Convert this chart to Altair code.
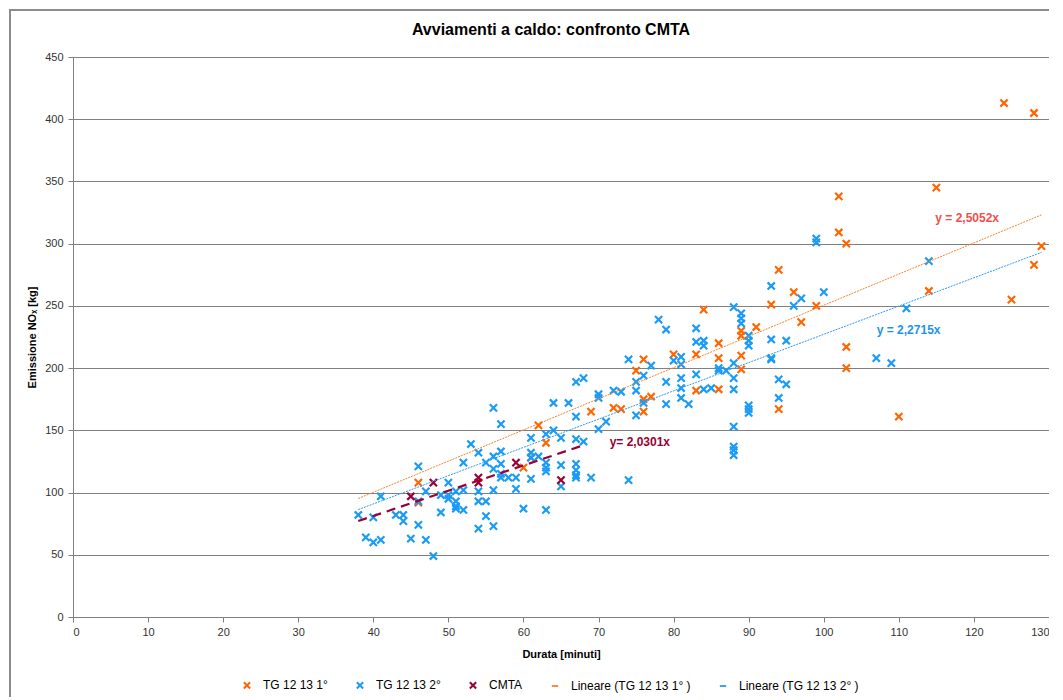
import altair as alt
import pandas as pd

# ---------------- data ----------------
TITLE = "Avviamenti a caldo: confronto CMTA"
S1 = "TG 12 13 1°"
S2 = "TG 12 13 2°"
S3 = "CMTA"
L1 = "Lineare (TG 12 13 1° )"
L2 = "Lineare (TG 12 13 2° )"

tg1_x = [46, 46, 60, 61, 62, 63, 69, 72, 73, 75, 76, 76, 77, 76, 80, 83, 83, 84, 86, 86,
         86, 89, 89, 89, 89, 91, 93, 94, 94, 96, 97, 99, 102, 102, 103, 103, 103, 110, 114,
         115, 124, 125, 128, 128, 129]
tg1_y = [108, 92, 120, 128, 154, 140, 165, 168, 167, 198, 207, 175, 177, 165, 211, 211, 182,
         247, 220, 208, 183, 230, 226, 210, 199, 233, 251, 279, 167, 261, 237, 250, 338, 309,
         300, 217, 200, 161, 262, 345, 413, 255, 405, 283, 298]

tg2_x = [57, 56, 53, 54, 52, 55, 56, 46, 50, 47, 46, 49, 50, 50, 51, 52, 51, 51, 51, 52,
         54, 56, 54, 55, 55, 54, 56, 49, 46, 45, 47, 48, 39, 40, 41, 38, 40, 41, 43, 44,
         44, 57, 56, 57, 57, 57, 58, 59, 59, 60, 63, 61, 64, 63, 65, 67, 68, 61, 61, 62,
         63, 63, 63, 65, 67, 67, 67, 67, 69, 61, 65, 74, 68, 67, 70, 70, 72, 73, 66, 64,
         67, 71, 70, 74, 76, 75, 75, 76, 75, 88, 89, 89, 89, 78, 79, 83, 83, 84, 84, 90,
         90, 90, 80, 81, 81, 88, 93, 93, 77, 86, 86, 87, 79, 81, 81, 83, 88, 88, 79, 81,
         82, 84, 85, 90, 90, 90, 88, 88, 88, 88, 94, 94, 93, 96, 97, 100, 99, 99, 93, 95,
         95, 111, 107, 109, 114]
tg2_y = [155, 168, 139, 132, 124, 124, 129, 121, 108, 101, 93, 98, 98, 95, 101, 102, 93, 89,
         87, 86, 101, 102, 93, 93, 81, 71, 73, 84, 74, 63, 62, 49, 64, 60, 62, 82, 80, 97,
         82, 82, 77, 133, 119, 123, 115, 112, 112, 112, 103, 87, 86, 144, 150, 147, 144, 143,
         141, 132, 128, 129, 124, 120, 117, 122, 123, 118, 114, 112, 112, 111, 105, 110, 192,
         189, 179, 176, 182, 181, 172, 172, 161, 157, 151, 207, 194, 189, 182, 172, 162, 249,
         244, 240, 236, 239, 231, 232, 221, 222, 218, 226, 222, 218, 206, 209, 203, 204, 223,
         207, 202, 200, 198, 198, 189, 192, 184, 195, 192, 183, 171, 176, 171, 183, 184, 170,
         167, 164, 153, 137, 134, 130, 191, 176, 266, 250, 256, 261, 304, 301, 208, 222, 187,
         248, 208, 204, 286]

cmta_x = [45, 48, 54, 54, 59, 65]
cmta_y = [97, 108, 112, 108, 124, 110]

# trend lines: slopes printed on the chart, x range of each fit
trend_names = [L1, L2, "CMTA fit"]
trend_slopes = [2.5052, 2.2715, 2.0301]
trend_x0 = [38, 38, 38]
trend_x1 = [129, 129, 68]
trend_labels = ["y = 2,5052x", "y = 2,2715x", "y= 2,0301x"]
label_x = [119.1, 111.3, 75.5]
label_y = [321, 231, 141]

legend_names = [S1, S2, S3, L1, L2]
legend_colors = ["#FF6600", "#1A9BF5", "#990033", "#FF8A3D", "#3AA3F5"]
X_PATH = "M-1,-1L1,1M-1,1L1,-1"
legend_shapes = [X_PATH, X_PATH, X_PATH, "stroke", "stroke"]

# ---------------- tables ----------------
pts = pd.concat([
    pd.DataFrame({"durata": tg1_x, "emissione": tg1_y, "serie": S1}),
    pd.DataFrame({"durata": tg2_x, "emissione": tg2_y, "serie": S2}),
    pd.DataFrame({"durata": cmta_x, "emissione": cmta_y, "serie": S3}),
], ignore_index=True)
pts["ordine"] = range(len(pts))

rows = []
for n, s, a, b in zip(trend_names, trend_slopes, trend_x0, trend_x1):
    rows.append({"linea": n, "durata": a, "emissione": s * a})
    rows.append({"linea": n, "durata": b, "emissione": s * b})
lines = pd.DataFrame(rows)

labels = pd.DataFrame({"durata": label_x, "emissione": label_y, "testo": trend_labels,
                       "colore": ["#F24E4E", "#1E93F0", "#990033"]})

FONT = "Liberation Sans"
GRID = "#808080"

xs = alt.Scale(domain=[0, 130], nice=False)
ys = alt.Scale(domain=[0, 450], nice=False)

x_axis = alt.Axis(values=list(range(0, 131, 10)), title="Durata [minuti]", grid=False,
                  domainColor=GRID, tickColor=GRID, tickSize=5, labelFontSize=11,
                  labelColor="#333333", labelFont=FONT, titleFont=FONT, titleFontSize=11,
                  titleFontWeight="bold", titlePadding=11, labelPadding=4)
y_axis = alt.Axis(values=list(range(0, 451, 50)), title="Emissione NOₓ [kg]", grid=True,
                  gridColor=GRID, gridWidth=1.2, domainColor=GRID, tickColor=GRID,
                  tickSize=5, labelFontSize=11, labelColor="#333333", labelFont=FONT,
                  titleFont=FONT, titleFontSize=11, titleFontWeight="bold",
                  titlePadding=7, labelPadding=5)

frame = alt.Chart(pd.DataFrame({"k": [0]})).mark_rect(
    fill=None, stroke="#8C8C8C", strokeWidth=2
).encode(x=alt.value(-63), x2=alt.value(1000), y=alt.value(-47), y2=alt.value(700))

title = alt.Chart(pd.DataFrame({"t": [TITLE]})).mark_text(
    font=FONT, fontSize=16, fontWeight="bold", color="#000000", align="center",
    baseline="middle"
).encode(text="t:N", x=alt.value(478), y=alt.value(-27))

points = alt.Chart(pts).mark_point(filled=False, size=52, strokeWidth=2.2, opacity=1).encode(
    x=alt.X("durata:Q", scale=xs, axis=x_axis),
    y=alt.Y("emissione:Q", scale=ys, axis=y_axis),
    color=alt.Color("serie:N", scale=alt.Scale(domain=legend_names, range=legend_colors),
                    legend=alt.Legend(orient="none", legendX=168, legendY=622,
                                      direction="horizontal", title=None, labelFont=FONT,
                                      labelFontSize=12, labelColor="#000000",
                                      symbolSize=40, symbolStrokeWidth=2,
                                      columnPadding=24, labelOffset=10)),
    shape=alt.Shape("serie:N", scale=alt.Scale(domain=legend_names, range=legend_shapes),
                    legend=alt.Legend(orient="none", legendX=168, legendY=622,
                                      direction="horizontal", title=None)),
    order=alt.Order("ordine:Q"),
)

def trend(name, color, dash, width):
    return alt.Chart(lines).transform_filter(alt.datum.linea == name).mark_line(
        color=color, strokeDash=dash, strokeWidth=width
    ).encode(x=alt.X("durata:Q", scale=xs), y=alt.Y("emissione:Q", scale=ys))

t1 = trend(L1, "#FF7F2A", [2, 1], 1)
t2 = trend(L2, "#2E9BF5", [2, 1], 1)
t3 = trend("CMTA fit", "#990033", [9, 6], 2.2)

texts = alt.Chart(labels).mark_text(font=FONT, fontSize=12, fontWeight="bold").encode(
    x=alt.X("durata:Q", scale=xs), y=alt.Y("emissione:Q", scale=ys),
    text="testo:N", color=alt.Color("colore:N", scale=None),
)

chart = alt.layer(frame, title, points, t1, t2, t3, texts).properties(
    width=976, height=560,
    autosize=alt.AutoSizeParams(type="none"),
    padding={"left": 65, "top": 49, "right": 0, "bottom": 80},
).configure_view(stroke=None).configure(background="white")

chart.save("out.html", embed_options={"renderer": "svg", "actions": False})
